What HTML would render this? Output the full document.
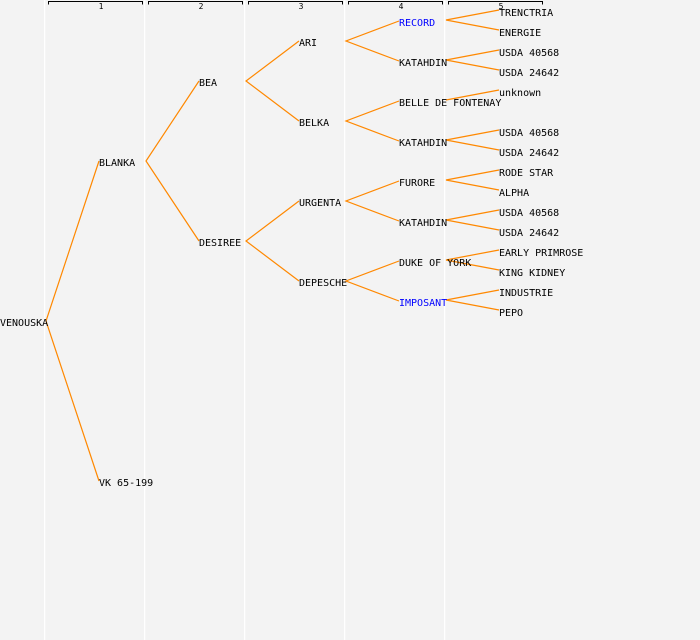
<!DOCTYPE html>
<html><head><style>
html,body{margin:0;padding:0;background:#f3f3f3;}
svg{display:block;}
text{font-family:"DejaVu Sans Mono","Liberation Mono",monospace;font-size:10px;fill:#000;}
.b{fill:#0000ff;}
.n{font-size:8px;}
</style></head><body>
<svg width="700" height="640" xmlns="http://www.w3.org/2000/svg">
<rect width="700" height="640" fill="#f3f3f3"/>
<g fill="#ffffff">
<rect x="44" y="0" width="1.3" height="640"/><rect x="144" y="0" width="1.3" height="640"/><rect x="244" y="0" width="1.3" height="640"/><rect x="344" y="0" width="1.3" height="640"/><rect x="444" y="0" width="1.3" height="640"/>
</g>
<g stroke="#000" stroke-width="1" fill="none">
<path d="M48.5 4.5V1.5H142.5V4.5"/><path d="M148.5 4.5V1.5H242.5V4.5"/><path d="M248.5 4.5V1.5H342.5V4.5"/><path d="M348.5 4.5V1.5H442.5V4.5"/><path d="M448.5 4.5V1.5H542.5V4.5"/>
</g>
<g class="n" text-anchor="middle">
<text class="n" x="101" y="9">1</text><text class="n" x="201" y="9">2</text><text class="n" x="301" y="9">3</text><text class="n" x="401" y="9">4</text><text class="n" x="501" y="9">5</text>
</g>
<g stroke="#ff8800" stroke-width="1.2" fill="none">
<path d="M99 161L46 321L99 481"/>
<path d="M199 81L146 161L199 241"/>
<path d="M299 41L246 81L299 121"/>
<path d="M299 201L246 241L299 281"/>
<path d="M399 21L346 41L399 61"/>
<path d="M399 101L346 121L399 141"/>
<path d="M399 181L346 201L399 221"/>
<path d="M399 261L346 281L399 301"/>
<path d="M499 10L446 20L499 30"/>
<path d="M499 50L446 60L499 70"/>
<path d="M499 90L446 100"/>
<path d="M499 130L446 140L499 150"/>
<path d="M499 170L446 180L499 190"/>
<path d="M499 210L446 220L499 230"/>
<path d="M499 250L446 260L499 270"/>
<path d="M499 290L446 300L499 310"/>
</g>
<g>
<text x="0" y="326">VENOUSKA</text>
<text x="99" y="166">BLANKA</text>
<text x="99" y="486">VK 65-199</text>
<text x="199" y="86">BEA</text>
<text x="199" y="246">DESIREE</text>
<text x="299" y="46">ARI</text>
<text x="299" y="126">BELKA</text>
<text x="299" y="206">URGENTA</text>
<text x="299" y="286">DEPESCHE</text>
<text x="399" y="26" class="b">RECORD</text>
<text x="399" y="66">KATAHDIN</text>
<text x="399" y="106">BELLE DE FONTENAY</text>
<text x="399" y="146">KATAHDIN</text>
<text x="399" y="186">FURORE</text>
<text x="399" y="226">KATAHDIN</text>
<text x="399" y="266">DUKE OF YORK</text>
<text x="399" y="306" class="b">IMPOSANT</text>
<text x="499" y="16">TRENCTRIA</text>
<text x="499" y="36">ENERGIE</text>
<text x="499" y="56">USDA 40568</text>
<text x="499" y="76">USDA 24642</text>
<text x="499" y="96">unknown</text>
<text x="499" y="136">USDA 40568</text>
<text x="499" y="156">USDA 24642</text>
<text x="499" y="176">RODE STAR</text>
<text x="499" y="196">ALPHA</text>
<text x="499" y="216">USDA 40568</text>
<text x="499" y="236">USDA 24642</text>
<text x="499" y="256">EARLY PRIMROSE</text>
<text x="499" y="276">KING KIDNEY</text>
<text x="499" y="296">INDUSTRIE</text>
<text x="499" y="316">PEPO</text>
</g>
</svg>
</body></html>
